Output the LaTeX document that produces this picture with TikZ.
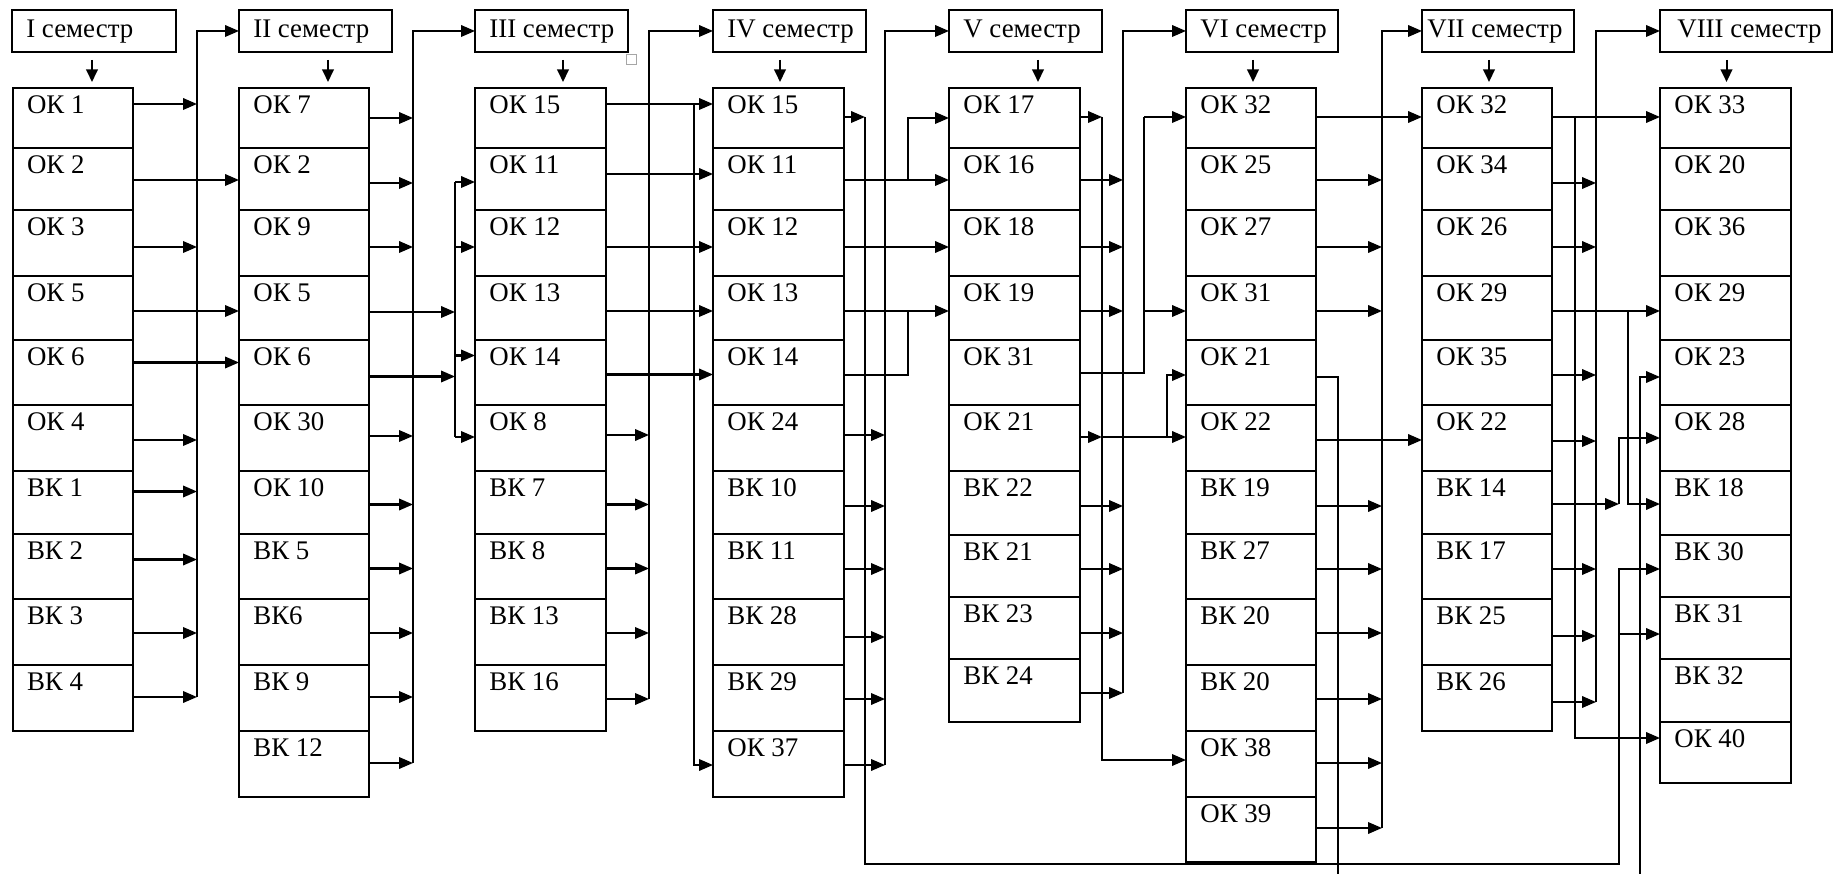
\documentclass[tikz,border=0pt]{standalone}
\usepackage{fontspec}
\setmainfont{Liberation Serif}
\usetikzlibrary{arrows.meta,calc}

\def\rowsA{{88,148,210,276,340,405,471,534,599,665,731,797,862}}
\def\rowsB{{88,148,210,276,340,405,471,535,597,659,722,783}}

\newcommand\semcol[5]{%
  \foreach \t [count=\i] in {#5} {%
    \pgfmathtruncatemacro\ia{\i-1}%
    \pgfmathsetmacro\yt{#4[\ia]}%
    \pgfmathsetmacro\yb{#4[\i]}%
    \pgfmathsetmacro\hh{(\yb-\yt)*0.02}%
    \node[cell, minimum width={(#3-#2)*0.02cm}, minimum height=\hh cm,
          label={[lbl]north west:\t}] (c#1-\i) at (#2,\yt) {};
  }}
\newcommand\semhdr[5]{%
  \node[cell, minimum width={(#3-#2)*0.02cm}, minimum height=0.84cm,
        label={[hlbl, xshift=#5]north west:#4}] (#1) at (#2,10) {};}
\newcommand\hto[3]{\path ($(#1)+(0,#2)$) coordinate (tmp); \draw[arr] (tmp) -- (tmp -| #3);}
\newcommand\hfrom[3]{\path ($(#2)+(0,#3)$) coordinate (tmp); \draw[arr] (tmp -| #1) -- (tmp);}

\begin{document}
\begin{tikzpicture}[x=0.02cm,y=-0.02cm,
  every node/.style={font=\fontsize{15.3}{18}\selectfont},
  cell/.style={draw, line width=1.15pt, rectangle, inner sep=0pt, outer sep=0pt, anchor=north west},
  lbl/.style={anchor=north west, inner sep=0pt, xshift=0.28cm, yshift=-0.15cm},
  hlbl/.style={anchor=north west, inner sep=0pt, yshift=-0.2cm},
  con/.style={line width=1.15pt},
  arr/.style={con, -{Triangle[length=0.28cm,width=0.23cm]}},
  harr/.style={con, -{Triangle[length=0.25cm,width=0.23cm]}},
]
\useasboundingbox (0,0) rectangle (1834,874);

% headers
\semhdr{h1}{12}{176}{I семестр}{0.28cm}
\semhdr{h2}{239}{392}{II семестр}{0.28cm}
\semhdr{h3}{475}{628}{III семестр}{0.28cm}
\semhdr{h4}{713}{866}{IV семестр}{0.28cm}
\semhdr{h5}{949}{1102}{V семестр}{0.28cm}
\semhdr{h6}{1186}{1338}{VI семестр}{0.28cm}
\semhdr{h7}{1422}{1574}{VII семестр}{0.1cm}
\semhdr{h8}{1660}{1832}{VIII семестр}{0.34cm}

\draw[gray!70, line width=0.5pt] (626,54) rectangle (636,64);

% columns
\semcol{1}{12.7}{133}{\rowsA}{ОК 1,ОК 2,ОК 3,ОК 5,ОК 6,ОК 4,ВК 1,ВК 2,ВК 3,ВК 4}
\semcol{2}{239}{369}{\rowsA}{ОК 7,ОК 2,ОК 9,ОК 5,ОК 6,ОК 30,ОК 10,ВК 5,ВК6,ВК 9,ВК 12}
\semcol{3}{475}{606}{\rowsA}{ОК 15,ОК 11,ОК 12,ОК 13,ОК 14,ОК 8,ВК 7,ВК 8,ВК 13,ВК 16}
\semcol{4}{713}{844}{\rowsA}{ОК 15,ОК 11,ОК 12,ОК 13,ОК 14,ОК 24,ВК 10,ВК 11,ВК 28,ВК 29,ОК 37}
\semcol{5}{949}{1080}{\rowsB}{ОК 17,ОК 16,ОК 18,ОК 19,ОК 31,ОК 21,ВК 22,ВК 21,ВК 23,ВК 24}
\semcol{6}{1186}{1316}{\rowsA}{ОК 32,ОК 25,ОК 27,ОК 31,ОК 21,ОК 22,ВК 19,ВК 27,ВК 20,ВК 20,ОК 38,ОК 39}
\semcol{7}{1422}{1552}{\rowsA}{ОК 32,ОК 34,ОК 26,ОК 29,ОК 35,ОК 22,ВК 14,ВК 17,ВК 25,ВК 26}
\semcol{8}{1660}{1791}{\rowsB}{ОК 33,ОК 20,ОК 36,ОК 29,ОК 23,ОК 28,ВК 18,ВК 30,ВК 31,ВК 32,ОК 40}

% header down arrows
\draw[harr] ($(h1.south)+(-2,8)$) -- ++(0,22);
\draw[harr] ($(h2.south)+(12.5,8)$) -- ++(0,22);
\draw[harr] ($(h3.south)+(11.5,8)$) -- ++(0,22);
\draw[harr] ($(h4.south)+(-9.5,8)$) -- ++(0,22);
\draw[harr] ($(h5.south)+(12.5,8)$) -- ++(0,22);
\draw[harr] ($(h6.south)+(-9,8)$) -- ++(0,22);
\draw[harr] ($(h7.south)+(-9,8)$) -- ++(0,22);
\draw[harr] ($(h8.south)+(-19.5,8)$) -- ++(0,22);

% bus coordinates
\coordinate (b1) at (197,0);
\coordinate (b2) at (413,0);
\coordinate (b3in) at (455,0);
\coordinate (b3) at (649,0);
\coordinate (b3x) at (694,0);
\coordinate (b4a) at (865,0);
\coordinate (b4) at (885,0);
\coordinate (b4in) at (908,0);
\coordinate (b5a) at (1102,0);
\coordinate (b5) at (1123,0);
\coordinate (b5in) at (1144,0);
\coordinate (b5in2) at (1167,0);
\coordinate (b6) at (1382,0);
\coordinate (b7a) at (1575,0);
\coordinate (b7) at (1596,0);
\coordinate (b7b) at (1628,0);
\coordinate (low) at (1619,864);
\coordinate (bot6) at (1338,874);
\coordinate (bot8) at (1640,874);

% column 1
\hto{c1-1.east}{-14}{b1}
\hto{c1-2.east}{1}{c2-2.west}
\hto{c1-3.east}{4}{b1}
\hto{c1-4.east}{3}{c2-4.west}
\hto{c1-5.east}{-10}{c2-5.west}
\hto{c1-6.east}{2}{b1}
\hto{c1-7.east}{-11}{b1}
\hto{c1-8.east}{-7}{b1}
\hto{c1-9.east}{1}{b1}
\hto{c1-10.east}{-1}{b1}
\draw[arr] ($(c1-10.east -| b1)+(0,-1)$) |- (h2.west);

% column 2
\hto{c2-1.east}{0}{b2}
\hto{c2-2.east}{4}{b2}
\hto{c2-3.east}{4}{b2}
\hto{c2-4.east}{4}{b3in}
\hto{c2-5.east}{4}{b3in}
\hto{c2-6.east}{-2}{b2}
\hto{c2-7.east}{2}{b2}
\hto{c2-8.east}{2}{b2}
\hto{c2-9.east}{1}{b2}
\hto{c2-10.east}{-1}{b2}
\hto{c2-11.east}{-1}{b2}
\draw[arr] ($(c2-11.east -| b2)+(0,-1)$) |- (h3.west);

% column 3 inputs
\draw[con] ($(c3-2.west -| b3in)+(0,3)$) -- ($(c3-6.west -| b3in)+(0,-1)$);
\hfrom{b3in}{c3-2.west}{3}
\hfrom{b3in}{c3-3.west}{4}
\hfrom{b3in}{c3-5.west}{-17}
\hfrom{b3in}{c3-6.west}{-1}

% column 3 outputs
\hto{c3-1.east}{-14}{c4-1.west}
\draw[arr] ($(c3-1.east -| b3x)+(0,-14)$) |- ($(c4-11.west)+(0,1)$);
\hto{c3-2.east}{-5}{c4-2.west}
\hto{c3-3.east}{4}{c4-3.west}
\hto{c3-4.east}{3}{c4-4.west}
\hto{c3-5.east}{2}{c4-5.west}
\hto{c3-6.east}{-3}{b3}
\hto{c3-7.east}{2}{b3}
\hto{c3-8.east}{2}{b3}
\hto{c3-9.east}{1}{b3}
\hto{c3-10.east}{1}{b3}
\draw[arr] ($(c3-10.east -| b3)+(0,1)$) |- (h4.west);

% column 4 outputs
\hto{c4-1.east}{-1}{b4a}
\draw[arr] ($(c4-1.east -| b4a)+(0,-1)$) |- (low) |- ($(c8-8.west)+(0,3)$);
\hfrom{low}{c8-9.west}{6}
\hto{c4-2.east}{1}{c5-2.west}
\draw[arr] ($(c4-2.east -| b4in)+(0,1)$) |- (c5-1.west);
\hto{c4-3.east}{4}{c5-3.west}
\hto{c4-4.east}{3}{c5-4.west}
\draw[con] ($(c4-5.east)+(0,2.5)$) -| ($(c5-4.west -| b4in)+(0,3)$);
\hto{c4-6.east}{-3}{b4}
\hto{c4-7.east}{3.5}{b4}
\hto{c4-8.east}{2.5}{b4}
\hto{c4-9.east}{5}{b4}
\hto{c4-10.east}{1}{b4}
\hto{c4-11.east}{1}{b4}
\draw[arr] ($(c4-11.east -| b4)+(0,1)$) |- (h5.west);

% column 5 outputs
\hto{c5-1.east}{-1}{b5a}
\draw[arr] ($(c5-1.east -| b5a)+(0,-1)$) |- ($(c6-11.west)+(0,-4)$);
\hto{c5-2.east}{1}{b5}
\hto{c5-3.east}{4}{b5}
\hto{c5-4.east}{3}{b5}
\draw[con] ($(c5-5.east)+(0,0.5)$) -| ($(c6-1.west -| b5in)+(0,-1)$);
\draw[arr] ($(c6-1.west -| b5in)+(0,-1)$) -- ($(c6-1.west)+(0,-1)$);
\hfrom{b5in}{c6-4.west}{3}
\hto{c5-6.east}{-1}{b5a}
\draw[arr] ($(c5-6.east -| b5a)+(0,-1)$) -- ($(c6-6.west)+(0,-1)$);
\draw[arr] ($(c5-6.east -| b5in2)+(0,-1)$) |- ($(c6-5.west)+(0,2.5)$);
\hto{c5-7.east}{3}{b5}
\hto{c5-8.east}{3}{b5}
\hto{c5-9.east}{5}{b5}
\hto{c5-10.east}{2.5}{b5}
\draw[arr] ($(c5-10.east -| b5)+(0,2.5)$) |- (h6.west);

% column 6 outputs
\hto{c6-1.east}{-1}{c7-1.west}
\hto{c6-2.east}{1}{b6}
\hto{c6-3.east}{4}{b6}
\hto{c6-4.east}{3}{b6}
\draw[con] ($(c6-5.east)+(0,4.5)$) -| (bot6);
\hto{c6-6.east}{2}{c7-6.west}
\hto{c6-7.east}{3.5}{b6}
\hto{c6-8.east}{2.5}{b6}
\hto{c6-9.east}{1}{b6}
\hto{c6-10.east}{1}{b6}
\hto{c6-11.east}{-1}{b6}
\hto{c6-12.east}{-1.5}{b6}
\draw[arr] ($(c6-12.east -| b6)+(0,-1.5)$) |- (h7.west);

% column 7 outputs
\hto{c7-1.east}{-1}{c8-1.west}
\draw[arr] ($(c7-1.east -| b7a)+(0,-1)$) |- ($(c8-11.west)+(0,-14.5)$);
\hto{c7-2.east}{4}{b7}
\hto{c7-3.east}{4}{b7}
\hto{c7-4.east}{3}{c8-4.west}
\draw[arr] ($(c7-4.east -| b7b)+(0,3)$) |- ($(c8-7.west)+(0,1)$);
\hto{c7-5.east}{2.5}{b7}
\hto{c7-6.east}{3}{b7}
\hto{c7-7.east}{1.5}{low}
\draw[arr] ($(c7-7.east -| low)+(0,1.5)$) |- (c8-6.west);
\hto{c7-8.east}{2.5}{b7}
\hto{c7-9.east}{4}{b7}
\hto{c7-10.east}{4}{b7}
\draw[arr] ($(c7-10.east -| b7)+(0,4)$) |- (h8.west);

% from below into column 8
\draw[arr] (bot8) |- ($(c8-5.west)+(0,4.5)$);
\end{tikzpicture}
\end{document}
